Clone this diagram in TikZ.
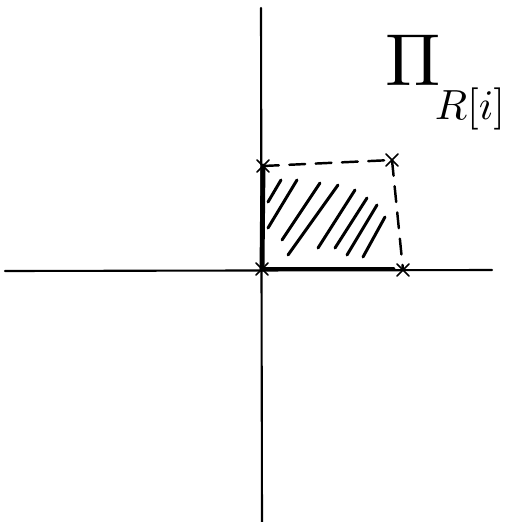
\documentclass[tikz,border=0pt]{standalone}
\usepackage{amsmath}
\usetikzlibrary{calc}

\begin{document}
\begin{tikzpicture}[
        x=0.02cm, y=-0.02cm,
        axis/.style={draw=black, line width=1.2pt, line cap=round},
        edge/.style={draw=black, line width=2.8pt, line cap=round},
        dashedge/.style={draw=black, line width=1.4pt, dash pattern=on 9pt off 6pt, line cap=round},
        hatch/.style={draw=black, line width=1.7pt, line cap=round},
        cross/.style={draw=black, line width=1pt, line cap=round}
    ]
        \useasboundingbox (0,0) rectangle (515,522);
        % axes
        \coordinate (xl) at (5,271);
        \coordinate (xr) at (492,270);
        \coordinate (yt) at (261,8);
        \coordinate (yb) at (262,522);
        \draw[axis] (xl) -- (xr);
        \draw[axis] (yt) -- (yb);

        % corners of the box
        \coordinate (o) at (262,269);
        \coordinate (tl) at (263,166);
        \coordinate (tr) at (392,160);
        \coordinate (br) at (403,270);

        \draw[edge] (o) -- (tl);
        \draw[edge] (o) -- ($(br)+(-10,-1)$);
        \draw[dashedge] (tl) -- (tr);
        \draw[dashedge] (tr) -- (br);

        % hatching
        \foreach \a/\b/\c/\d in {281/180/268/202, 297/180/268/228, 320/183/282/240,
                                  338/185/288/255, 355/190/318/248, 367/198/335/248,
                                  377/205/347/255, 385/217/363/257}
            \draw[hatch] (\a,\b) -- (\c,\d);

        % crosses at the corners
        \foreach \p in {o, tl, tr, br}
            \draw[cross] ($(\p)+(-6,-6)$) -- ($(\p)+(6,6)$) ($(\p)+(-6,6)$) -- ($(\p)+(6,-6)$);

        % label
        \node[anchor=base west, inner sep=0pt, scale=4.2] (proj) at (384,85) {$\Pi$};
        \node[anchor=base west, inner sep=0pt, scale=2.4] (projsub) at (434,119) {$R[i]$};
    \end{tikzpicture}
\end{document}
